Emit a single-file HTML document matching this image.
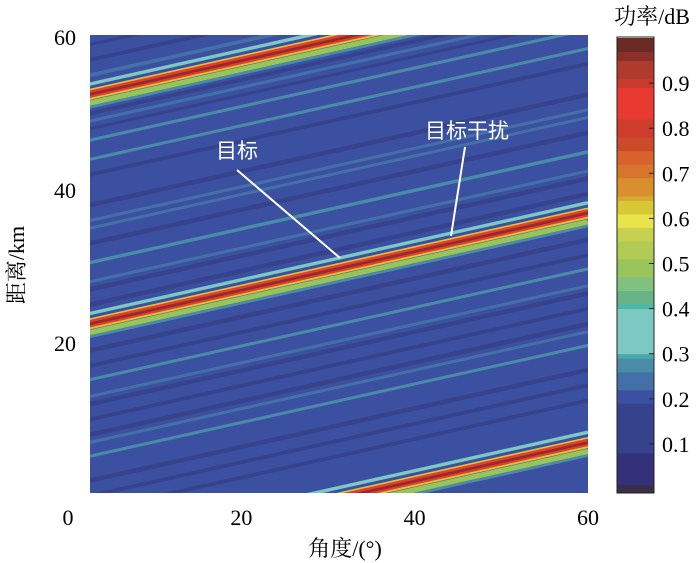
<!DOCTYPE html>
<html><head><meta charset="utf-8"><style>
body{margin:0;background:#fff;}
svg{display:block;font-family:"Liberation Serif","Noto Serif CJK SC",serif;}
</style></head><body>
<svg id="c" width="700" height="563">
<defs><clipPath id="pc"><rect x="90" y="35" width="498" height="458"/></clipPath></defs>
<g id="plot" clip-path="url(#pc)"></g>
<g id="cbar"></g>
<g id="axes"></g>
<line x1="237" y1="170" x2="340" y2="258" stroke="#fff" stroke-width="2"/>
<line x1="465" y1="147" x2="451" y2="236" stroke="#fff" stroke-width="2"/>
<text x="237" y="158" fill="#fff" font-size="21" text-anchor="middle" font-family="'Noto Sans CJK SC',sans-serif">目标</text>
<text x="467" y="138" fill="#fff" font-size="21" text-anchor="middle" font-family="'Noto Sans CJK SC',sans-serif">目标干扰</text>
<text x="345" y="556" font-size="22" text-anchor="middle">角度/(°)</text>
<text transform="translate(24,265) rotate(-90)" font-size="22" text-anchor="middle">距离/km</text>
<text x="652" y="24" font-size="22" text-anchor="middle">功率/dB</text>
</svg>
<script>
const xTicks=[0,20,40,60];
const yTicks=[20,40,60];
const cbTicks=[0.1,0.2,0.3,0.4,0.5,0.6,0.7,0.8,0.9];
// colormap bands: upper value bound and colour
const cmapUpper=[0.01,0.08,0.19,0.22,0.26,0.29,0.30,0.40,0.41,0.44,0.47,0.51,0.55,0.58,0.61,0.64,0.65,0.69,0.72,0.75,0.78,0.82,0.83,0.89,0.91,0.95,0.97,1.0];
const cmapColor=["#3a2e48","#35307a","#36438c","#3b50a0","#4470a8","#4a8ca8","#4aa8a8","#7ec8c4","#4ab8a8","#68b488","#80c080","#98c45a","#b0cc55","#c8d050","#e8e44a","#d8c835","#d8a830","#d8902c","#d8752c","#d8622c","#cc4a2a","#d03c2c","#e83a30","#e83a30","#c83a2e","#b03a2e","#8c2f28","#6b2a24"];
const bgValue=0.2;
const slope=0.252; // km per degree
const bandCenters=[52.5,22.5,-7.5];
const bandOffsets=[1.35,0.6,0,0,-0.6,-1.15,-1.7];
const bandWidths=[0.45,0.25,1.0,0.35,0.25,0.7,0.35];
const bandValues=[0.36,0.62,0.88,0.96,0.62,0.5,0.28];
const lineKm=[59,57,55,50,49,48,46.5,44,42,38,36,35,33,30.5,28,27,25,19,17,15.2,13,12,10,8,7,5.2,2,0,-2];
const lineW=[0.4,0.5,0.5,0.5,0.4,0.4,0.4,0.4,0.5,0.6,0.4,0.4,0.6,0.45,0.4,0.6,0.6,0.6,0.5,0.4,0.4,0.6,0.5,0.6,0.4,0.4,0.6,0.5,0.5];
const lineV=[0.15,0.15,0.24,0.15,0.24,0.15,0.27,0.28,0.15,0.15,0.24,0.26,0.15,0.29,0.24,0.15,0.15,0.15,0.15,0.28,0.24,0.15,0.15,0.15,0.24,0.27,0.15,0.15,0.15];
const NS="http://www.w3.org/2000/svg";
const X=a=>68+a*(520/60), Y=k=>496-k*(153/20);
const cmap=v=>{for(let i=0;i<cmapUpper.length;i++){if(v<=cmapUpper[i])return cmapColor[i];}return cmapColor[cmapColor.length-1];};
function mk(t,p,at){const e=document.createElementNS(NS,t);for(const k in at)e.setAttribute(k,at[k]);p.appendChild(e);return e;}
const plot=document.getElementById('plot');
const bg=mk('rect',plot,{x:90,y:35,width:498,height:458,fill:cmap(bgValue)});


function stripe(k,w,v,name){
 const a0=2.5,a1=60;
 const k1=k+slope*(a1-a0);
 const l=mk('line',plot,{x1:X(a0),y1:Y(k),x2:X(a1),y2:Y(k1),stroke:cmap(v),'stroke-width':w*153/20});
 
 
}
lineKm.forEach((k,i)=>stripe(k,lineW[i],lineV[i],'clutter-stripe'));
bandCenters.forEach(c=>bandOffsets.forEach((o,i)=>stripe(c+o,bandWidths[i],bandValues[i],'target-band')));
const axes=document.getElementById('axes');
xTicks.forEach(t=>{const e=mk('text',axes,{x:X(t),y:525,'font-size':22,'text-anchor':'middle'});e.textContent=t;

});
yTicks.forEach(t=>{const e=mk('text',axes,{x:76,y:Y(t)+8,'font-size':22,'text-anchor':'end'});e.textContent=t;

});
const cb=document.getElementById('cbar');
const CY=v=>489-v*451;
let prev=0;
cmapUpper.forEach((u,i)=>{const top=Math.max(37,CY(u));const bot=i===0?493:CY(prev);const r=mk('rect',cb,{x:617,y:top,width:37,height:bot-top+0.5,fill:cmapColor[i]});prev=u;

});
mk('rect',cb,{x:617,y:37,width:37,height:456,fill:'none',stroke:'#222','stroke-width':1});
cbTicks.forEach(t=>{mk('line',cb,{x1:649,x2:654,y1:CY(t),y2:CY(t),stroke:'#222'});
const e=mk('text',cb,{x:662,y:CY(t)+8,'font-size':22});e.textContent=t;

});
</script>
</body></html>
